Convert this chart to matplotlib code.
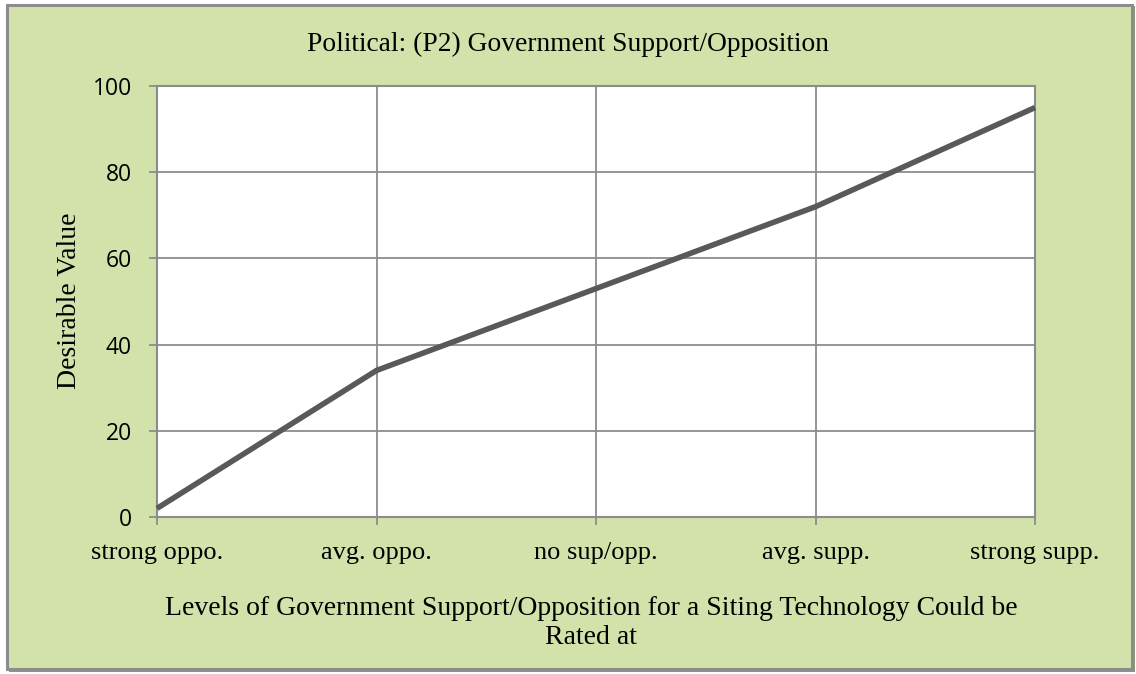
import matplotlib
matplotlib.use("Agg")
import matplotlib.pyplot as plt
from matplotlib.patches import Rectangle

categories = ["strong oppo.", "avg. oppo.", "no sup/opp.", "avg. supp.", "strong supp."]
values = [2, 34, 53, 72, 95]
y_ticks = [0, 20, 40, 60, 80, 100]

title = "Political: (P2) Government Support/Opposition"
x_title = "Levels of Government Support/Opposition for a Siting Technology Could be\nRated at"
y_title = "Desirable Value"

W, H = 1136, 674
fig = plt.figure(figsize=(W / 100, H / 100), dpi=100)
fig.patch.set_facecolor("white")

bg = "#d2e2aa"
# frame with shadow
fig.patches.append(Rectangle((9 / W, 1 - 672 / H), 1126 / W, 666 / H, transform=fig.transFigure,
                             facecolor="#8a9a78", edgecolor="none", zorder=0))
fig.patches.append(Rectangle((7 / W, 1 - 669 / H), 1125 / W, 664 / H, transform=fig.transFigure,
                             facecolor=bg, edgecolor="#8c8c8c", linewidth=2.2, zorder=1))

serif = ["Liberation Serif", "DejaVu Serif"]
sans = ["Open Sans", "DejaVu Sans"]

ax = fig.add_axes([157 / W, 1 - 517 / H, (1035 - 157) / W, (517 - 86) / H])
ax.set_zorder(5)
ax.set_facecolor("white")
x = list(range(len(categories)))
ax.plot(x, values, color="#595959", linewidth=4.0, solid_capstyle="butt", zorder=3, clip_on=False)
ax.set_xlim(0, len(categories) - 1)
ax.set_ylim(0, 100)
ax.set_yticks(y_ticks)
ax.set_xticks(x)
ax.set_xticklabels(categories, fontfamily=serif, fontsize=19)
ax.set_yticklabels([str(v) for v in y_ticks], fontfamily=sans, fontsize=16.5)
ax.grid(True, color="#8c8c8c", linewidth=1.3, zorder=1)
for s in ax.spines.values():
    s.set_color("#8c8c8c")
    s.set_linewidth(1.5)
ax.tick_params(axis="both", color="#8c8c8c", width=1.3, length=6)
ax.tick_params(axis="x", pad=12)
ax.tick_params(axis="y", pad=12)

fig.text(568 / W, 1 - 44 / H, title, ha="center", va="center", fontfamily=serif, fontsize=19.8)
fig.text(591 / W, 1 - 623 / H, x_title, ha="center", va="center", fontfamily=serif, fontsize=20,
         linespacing=1.25)
fig.text(70 / W, 1 - 301 / H, y_title, ha="center", va="center", rotation=90, fontfamily=serif,
         fontsize=20)

fig.savefig("out.png", dpi=100)
